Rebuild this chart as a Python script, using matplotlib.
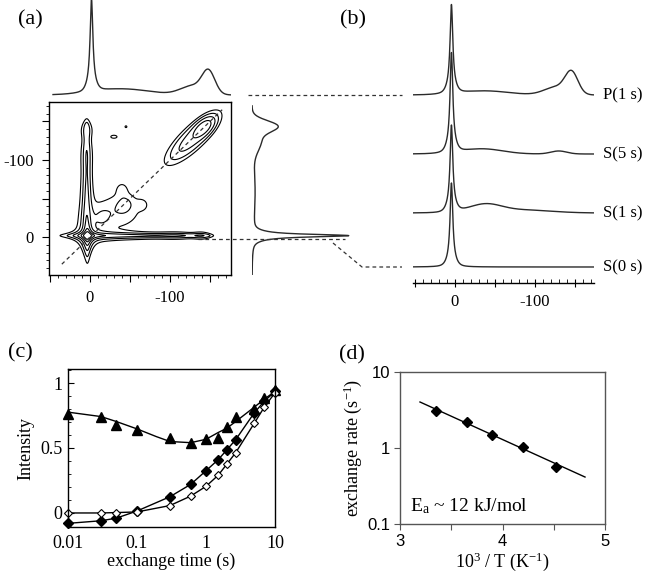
import numpy as np
import matplotlib
matplotlib.use('Agg')
import matplotlib.pyplot as plt
from matplotlib.lines import Line2D
from matplotlib.ticker import MultipleLocator, FixedLocator, FuncFormatter, NullLocator

plt.rcParams['font.family'] = ['Liberation Serif', 'DejaVu Serif']
plt.rcParams['axes.unicode_minus'] = False
plt.rcParams['mathtext.fontset'] = 'custom'
plt.rcParams['mathtext.rm'] = 'Liberation Serif'
plt.rcParams['mathtext.it'] = 'Liberation Serif:italic'

W, H = 645, 580

# ---- (a) 2D exchange map, components (ppm) ----
main_peak = (3, -2, 100, 3.0, 3.0)          # x0, y0, amp, hwhm x, hwhm y (lorentzian product)
hridge_y0, hridge_w = -2, 2.5
hridge_prof = [(-15, 5, 20), (-60, 4, 25), (-110, 4, 20), (-140, 3, 8)]
vridge_x0, vridge_w = 4, 4.0
vridge_prof = [(-15, 6, 20), (-60, 4, 25), (-110, 3.5, 20), (-140, 2.5, 8)]
blobs = [(-38, -35, 1.8, 18, 15), (-40, -62, 1.3, 5, 6), (-65, -42, 1.3, 5, 5),
         (-15, -25, 1.3, 8, 10), (-45, -45, 1.0, 8, 8),
         (-30, -130, 1.5, 4, 2), (-45, -143, 1.3, 1.5, 1.5)]
diag_peaks = [(-128, 6, 25, 8), (-142, 10, 10, 5)]   # centre, amp, sigma along, sigma across
levels = [1, 2, 4, 8, 16, 32]

# 1D projections: (centre ppm, height, width)
top_lor = [(-2, 85, 2.0)]
top_gau = [(-2, 8, 5), (-40, 6, 35), (-148, 22, 8), (-128, 9, 15)]
side_lor = [(-2, 88, 2.0)]
side_gau = [(-2, 8, 5), (-60, 3, 35), (-144, 22, 7), (-126, 9, 14)]

# ---- (b) slices ----
spec_names = ['S(0 s)', 'S(1 s)', 'S(5 s)', 'P(1 s)']
spec_offset = [16, 70, 129, 188]
spec_lor = [[(4, 78, 2.0)], [(4, 80, 2.0)], [(4, 92, 2.0)], [(4, 82, 2.0)]]
spec_gau = [[(4, 6, 5)],
            [(4, 7, 5), (-38, 8, 20), (-85, 3, 35)],
            [(4, 8, 5), (-35, 5, 25), (-130, 3, 10)],
            [(4, 7, 5), (-38, 4, 30), (-146, 21, 8), (-127, 8, 15)]]

# ---- (c) intensities ----
t_exch = [0.01, 0.03, 0.05, 0.1, 0.3, 0.6, 1, 1.5, 2, 2.7, 5, 7, 10]
I_tri = [0.76, 0.735, 0.68, 0.64, 0.58, 0.54, 0.57, 0.575, 0.665, 0.735, 0.80, 0.885, 0.945]
I_fill = [-0.08, -0.06, -0.04, 0.015, 0.125, 0.22, 0.325, 0.41, 0.485, 0.565, 0.77, 0.86, 0.935]
I_open = [0.0, 0.0, 0.003, 0.008, 0.057, 0.13, 0.205, 0.29, 0.375, 0.465, 0.69, 0.815, 0.925]
fit_t = [0.01, 0.03, 0.05, 0.1, 0.19, 0.3, 0.6, 1, 1.5, 2, 2.7, 5, 7, 10]
fit_I = [0.776, 0.742, 0.704, 0.647, 0.588, 0.55, 0.541, 0.567, 0.619, 0.652, 0.704, 0.814, 0.876, 0.936]

# ---- (d) Arrhenius ----
invT = [3.35, 3.65, 3.90, 4.20, 4.52]
k_ex = [3.1, 2.2, 1.5, 1.03, 0.57]
k_err = [0.35, 0.25, 0.15, 0.10, 0.07]
fit_invT = [3.195, 4.805]
fit_k = [4.03, 0.415]


def lor(x, x0, w):
    return 1.0 / (1.0 + ((x - x0) / w) ** 2)


def gau(x, x0, s):
    return np.exp(-0.5 * ((x - x0) / s) ** 2)


def spectrum(x, lp, gp):
    y = np.zeros_like(x)
    for c, a, w in lp:
        y += a * lor(x, c, w)
    for c, a, s in gp:
        y += a * gau(x, c, s)
    return y


def rect(l, t, r, b):
    return [l / W, 1 - b / H, (r - l) / W, (b - t) / H]


def fig_line(fig, xs, ys):
    fig.add_artist(Line2D([x / W for x in xs], [1 - y / H for y in ys],
                          transform=fig.transFigure, color='#333333', lw=0.9,
                          ls=(0, (3, 2.5))))


def ppm_fmt(v, pos):
    return {0: '0', -100: '-100'}.get(int(round(v)), '')


fig = plt.figure(figsize=(W / 100, H / 100), dpi=100)
LC = '#2a2a2a'

# ----- (a) -----
xlim_a = (51, -176)
ylim_a = (49, -175)
a2d = fig.add_axes(rect(49, 102, 231, 275))
xx = np.linspace(xlim_a[0], xlim_a[1], 500)
yy = np.linspace(ylim_a[0], ylim_a[1], 500)
X, Y = np.meshgrid(xx, yy)
x0, y0, A, gx, gy = main_peak
Z = A * lor(X, x0, gx) * lor(Y, y0, gy)
Z += lor(Y, hridge_y0, hridge_w) * sum(a * gau(X, c, s) for c, a, s in hridge_prof)
Z += lor(X, vridge_x0, vridge_w) * sum(a * gau(Y, c, s) for c, a, s in vridge_prof)
for bx, by, ba, sx, sy in blobs:
    Z += ba * gau(X, bx, sx) * gau(Y, by, sy)
U = (X + Y) / np.sqrt(2)
V = (X - Y) / np.sqrt(2)
for c, a, su, sv in diag_peaks:
    Z += a * gau(U, c * np.sqrt(2), su) * gau(V, 0, sv)
a2d.contour(X, Y, Z, levels=levels, colors='k', linewidths=0.8)
a2d.plot([35, -165], [35, -165], color='#333333', lw=0.9, ls=(0, (3, 2.5)))
a2d.set_xlim(xlim_a)
a2d.set_ylim(ylim_a)
a2d.xaxis.set_major_locator(MultipleLocator(50))
a2d.yaxis.set_major_locator(MultipleLocator(50))
a2d.xaxis.set_minor_locator(MultipleLocator(10))
a2d.yaxis.set_minor_locator(MultipleLocator(10))
a2d.xaxis.set_major_formatter(FuncFormatter(ppm_fmt))
a2d.yaxis.set_major_formatter(FuncFormatter(ppm_fmt))
a2d.tick_params(which='major', direction='out', length=5, width=0.8, labelsize=12, pad=6)
a2d.tick_params(which='minor', direction='out', length=2.5, width=0.6)
for s in a2d.spines.values():
    s.set_linewidth(1.0)

atop = fig.add_axes(rect(49, 0, 231, 97))
xs = np.linspace(46, -176, 800)
atop.plot(xs, spectrum(xs, top_lor, top_gau), color=LC, lw=1.0)
atop.set_xlim(xlim_a)
atop.set_ylim(-2, 95)
atop.axis('off')

aside = fig.add_axes(rect(252, 102, 352, 275))
ys = np.linspace(49, -170, 800)
aside.plot(spectrum(ys, side_lor, side_gau), ys, color=LC, lw=1.0)
aside.set_xlim(0, 100)
aside.set_ylim(ylim_a)
aside.axis('off')

# guide lines
fig_line(fig, [248, 402], [95, 95])
fig_line(fig, [198, 345], [239, 239])
fig_line(fig, [333, 362, 402], [243, 267, 267])

# ----- (b) -----
ab = fig.add_axes(rect(413, 0, 594, 283))
xb = np.linspace(52, -174, 900)
for name, off, lp, gp in zip(spec_names, spec_offset, spec_lor, spec_gau):
    ab.plot(xb, off + spectrum(xb, lp, gp), color=LC, lw=1.0)
    ab.text(-185, off, name, ha='left', va='center', fontsize=12)
ab.set_xlim(52, -174)
ab.set_ylim(0, 283)
for s in ['top', 'left', 'right']:
    ab.spines[s].set_visible(False)
ab.spines['bottom'].set_linewidth(1.0)
ab.yaxis.set_major_locator(NullLocator())
ab.xaxis.set_major_locator(MultipleLocator(50))
ab.xaxis.set_minor_locator(MultipleLocator(10))
ab.xaxis.set_major_formatter(FuncFormatter(ppm_fmt))
ab.tick_params(which='major', direction='inout', length=6, width=0.8, labelsize=12, pad=5)
ab.tick_params(which='minor', direction='in', length=3, width=0.6)

# ----- (c) -----
ac = fig.add_axes(rect(68, 369, 275, 527))
ac.plot(fit_t, fit_I, color='k', lw=1.0)
ac.plot(t_exch, I_fill, color='k', lw=1.0)
ac.plot(t_exch, I_open, color='k', lw=1.0)
ac.plot(t_exch, I_tri, ls='none', marker='^', ms=7, color='k', clip_on=False)
ac.plot(t_exch, I_fill, ls='none', marker='D', ms=5, color='k', clip_on=False)
ac.plot(t_exch, I_open, ls='none', marker='D', ms=4.5, mfc='white', mec='k', mew=0.8, clip_on=False)
ac.set_xscale('log')
ac.set_xlim(0.01, 10)
ac.set_ylim(-0.108, 1.108)
ac.xaxis.set_major_locator(FixedLocator([0.01, 0.1, 1, 10]))
ac.xaxis.set_major_formatter(FuncFormatter(lambda v, p: {0.01: '0.01', 0.1: '0.1', 1: '1', 10: '10'}.get(round(v, 3), '')))
ac.xaxis.set_minor_locator(NullLocator())
ac.yaxis.set_major_locator(FixedLocator([0, 0.5, 1]))
ac.yaxis.set_major_formatter(FuncFormatter(lambda v, p: {0: '0', 0.5: '0.5', 1: '1'}.get(round(v, 2), '')))
ac.yaxis.set_minor_locator(MultipleLocator(0.1))
ac.tick_params(which='major', direction='in', length=4, width=0.8, labelsize=13, pad=4)
ac.tick_params(which='minor', direction='in', length=2.5, width=0.6)
ac.tick_params(axis='x', length=0, pad=6)
ac.set_xlabel('exchange time (s)', fontsize=13, labelpad=0)
ac.set_ylabel('Intensity', fontsize=13, labelpad=4)
for s in ac.spines.values():
    s.set_linewidth(1.0)

# ----- (d) -----
ad = fig.add_axes(rect(400, 372, 605, 524))
ad.plot(fit_invT, fit_k, color='k', lw=1.0)
ad.errorbar(invT, k_ex, yerr=k_err, fmt='D', ms=5, color='k', ecolor='k', elinewidth=1.2, capsize=0)
ad.set_yscale('log')
ad.set_xlim(3, 5)
ad.set_ylim(0.1, 10)
ad.xaxis.set_major_locator(MultipleLocator(0.5))
ad.xaxis.set_major_formatter(FuncFormatter(lambda v, p: str(int(round(v))) if abs(v - round(v)) < 1e-6 else ''))
ad.yaxis.set_major_locator(FixedLocator([0.1, 1, 10]))
ad.yaxis.set_major_formatter(FuncFormatter(lambda v, p: {0.1: '0.1', 1: '1', 10: '10'}.get(round(v, 2), '')))
ad.yaxis.set_minor_locator(NullLocator())
ad.tick_params(which='major', direction='out', length=4, width=0.8, labelsize=12, pad=3, color='#555555')
for lab in ad.get_xticklabels() + ad.get_yticklabels():
    lab.set_family(['Liberation Sans', 'DejaVu Sans'])
for s in ad.spines.values():
    s.set_linewidth(1.0)
    s.set_color('#555555')
ad.set_xlabel(r'$10^3$ / T (K$^{-1}$)', fontsize=13, labelpad=1)
ad.set_ylabel(r'exchange rate (s$^{-1}$)', fontsize=13, labelpad=2)
ad.text(3.1, 0.17, r'E$_\mathrm{a}$ ~ 12 kJ/mol', fontsize=14, ha='left', va='center')

# panel labels
for lab, px, py in [('(a)', 30, 20), ('(b)', 353, 20), ('(c)', 20, 353), ('(d)', 352, 355)]:
    fig.text(px / W, 1 - py / H, lab, fontsize=16, ha='center', va='center')

fig.savefig('out.png', dpi=100)
